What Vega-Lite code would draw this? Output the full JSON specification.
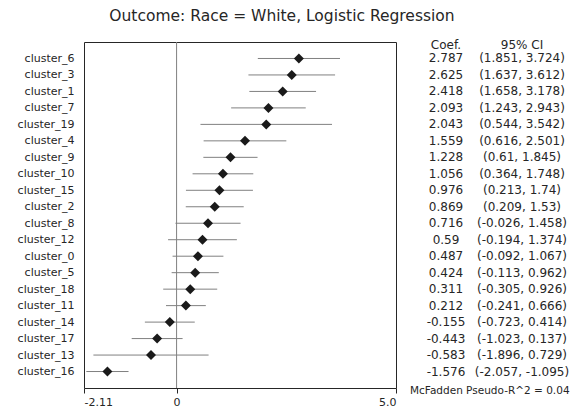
{
  "$schema": "https://vega.github.io/schema/vega-lite/v6.json",
  "padding": {"left": 16, "top": 8, "right": 0, "bottom": 0},
  "autosize": {"type": "pad"},
  "config": {"font": "DejaVu Sans", "view": {"stroke": null}},
  "datasets": {
    "coefs": [
      {"cluster": "cluster_6", "coef": 2.787, "lo": 1.851, "hi": 3.724, "ci": "(1.851, 3.724)"},
      {"cluster": "cluster_3", "coef": 2.625, "lo": 1.637, "hi": 3.612, "ci": "(1.637, 3.612)"},
      {"cluster": "cluster_1", "coef": 2.418, "lo": 1.658, "hi": 3.178, "ci": "(1.658, 3.178)"},
      {"cluster": "cluster_7", "coef": 2.093, "lo": 1.243, "hi": 2.943, "ci": "(1.243, 2.943)"},
      {"cluster": "cluster_19", "coef": 2.043, "lo": 0.544, "hi": 3.542, "ci": "(0.544, 3.542)"},
      {"cluster": "cluster_4", "coef": 1.559, "lo": 0.616, "hi": 2.501, "ci": "(0.616, 2.501)"},
      {"cluster": "cluster_9", "coef": 1.228, "lo": 0.61, "hi": 1.845, "ci": "(0.61, 1.845)"},
      {"cluster": "cluster_10", "coef": 1.056, "lo": 0.364, "hi": 1.748, "ci": "(0.364, 1.748)"},
      {"cluster": "cluster_15", "coef": 0.976, "lo": 0.213, "hi": 1.74, "ci": "(0.213, 1.74)"},
      {"cluster": "cluster_2", "coef": 0.869, "lo": 0.209, "hi": 1.53, "ci": "(0.209, 1.53)"},
      {"cluster": "cluster_8", "coef": 0.716, "lo": -0.026, "hi": 1.458, "ci": "(-0.026, 1.458)"},
      {"cluster": "cluster_12", "coef": 0.59, "lo": -0.194, "hi": 1.374, "ci": "(-0.194, 1.374)"},
      {"cluster": "cluster_0", "coef": 0.487, "lo": -0.092, "hi": 1.067, "ci": "(-0.092, 1.067)"},
      {"cluster": "cluster_5", "coef": 0.424, "lo": -0.113, "hi": 0.962, "ci": "(-0.113, 0.962)"},
      {"cluster": "cluster_18", "coef": 0.311, "lo": -0.305, "hi": 0.926, "ci": "(-0.305, 0.926)"},
      {"cluster": "cluster_11", "coef": 0.212, "lo": -0.241, "hi": 0.666, "ci": "(-0.241, 0.666)"},
      {"cluster": "cluster_14", "coef": -0.155, "lo": -0.723, "hi": 0.414, "ci": "(-0.723, 0.414)"},
      {"cluster": "cluster_17", "coef": -0.443, "lo": -1.023, "hi": 0.137, "ci": "(-1.023, 0.137)"},
      {"cluster": "cluster_13", "coef": -0.583, "lo": -1.896, "hi": 0.729, "ci": "(-1.896, 0.729)"},
      {"cluster": "cluster_16", "coef": -1.576, "lo": -2.057, "hi": -1.095, "ci": "(-2.057, -1.095)"}
    ]
  },
  "spacing": 12,
  "bounds": "flush",
  "hconcat": [
    {
      "title": {"text": "Outcome: Race = White, Logistic Regression", "fontSize": 15.5, "fontWeight": "normal", "color": "#262626", "anchor": "middle", "dx": 42, "offset": 17},
      "width": 312,
      "height": 346,
      "view": {"stroke": "#262626", "strokeWidth": 1},
      "layer": [
        {
          "data": {"values": [{"ref": 0}]},
          "mark": {"type": "rule", "color": "#808080", "strokeWidth": 1},
          "encoding": {
            "x": {"field": "ref", "type": "quantitative", "scale": {"domain": [-2.11, 5.0], "nice": false, "zero": false}}
          }
        },
        {
          "data": {"name": "coefs"},
          "mark": {"type": "rule", "color": "#808080", "strokeWidth": 1},
          "encoding": {
            "x": {"field": "lo", "type": "quantitative"},
            "x2": {"field": "hi"},
            "y": {"field": "cluster", "type": "nominal", "sort": null}
          }
        },
        {
          "data": {"name": "coefs"},
          "mark": {"type": "point", "shape": "diamond", "filled": true, "size": 100, "color": "#1a1a1a", "opacity": 1},
          "encoding": {
            "x": {"field": "coef", "type": "quantitative"},
            "y": {"field": "cluster", "type": "nominal", "sort": null}
          }
        }
      ],
      "resolve": {"scale": {"x": "shared", "y": "shared"}},
      "encoding": {
        "x": {
          "type": "quantitative",
          "scale": {"domain": [-2.11, 5.0], "nice": false, "zero": false},
          "axis": {"title": null, "values": [-2.11, 0, 5], "labelExpr": "datum.value == 5 ? '5.0' : datum.value == 0 ? '0' : '-2.11'", "grid": false, "domain": false, "tickColor": "#262626", "tickSize": 5, "labelFontSize": 11, "labelColor": "#262626", "labelPadding": 3}
        },
        "y": {
          "type": "nominal",
          "scale": {"type": "point", "padding": 1, "domain": ["cluster_6","cluster_3","cluster_1","cluster_7","cluster_19","cluster_4","cluster_9","cluster_10","cluster_15","cluster_2","cluster_8","cluster_12","cluster_0","cluster_5","cluster_18","cluster_11","cluster_14","cluster_17","cluster_13","cluster_16"]},
          "axis": {"title": null, "ticks": false, "domain": false, "grid": false, "labelPadding": 10, "labelFontSize": 11, "labelColor": "#262626"}
        }
      }
    },
    {
      "width": 152,
      "height": 346,
      "view": {"stroke": null},
      "encoding": {
        "y": {
          "type": "nominal",
          "scale": {"type": "point", "padding": 1, "domain": ["cluster_6","cluster_3","cluster_1","cluster_7","cluster_19","cluster_4","cluster_9","cluster_10","cluster_15","cluster_2","cluster_8","cluster_12","cluster_0","cluster_5","cluster_18","cluster_11","cluster_14","cluster_17","cluster_13","cluster_16"]},
          "axis": null
        },
        "x": {"type": "nominal", "scale": {"type": "point", "padding": 0.5, "domain": ["Coef.", "95% CI"]}, "axis": null}
      },
      "layer": [
        {
          "data": {"name": "coefs"},
          "mark": {"type": "text", "fontSize": 12, "color": "#262626"},
          "encoding": {
            "x": {"datum": "Coef.", "type": "nominal"},
            "y": {"field": "cluster", "type": "nominal"},
            "text": {"field": "coef", "type": "nominal"}
          }
        },
        {
          "data": {"name": "coefs"},
          "mark": {"type": "text", "fontSize": 12, "color": "#262626"},
          "encoding": {
            "x": {"datum": "95% CI", "type": "nominal"},
            "y": {"field": "cluster", "type": "nominal"},
            "text": {"field": "ci", "type": "nominal"}
          }
        },
        {
          "data": {"values": [{"col": "Coef."}, {"col": "95% CI"}]},
          "mark": {"type": "text", "fontSize": 12, "color": "#262626", "dy": -13},
          "encoding": {
            "x": {"field": "col", "type": "nominal"},
            "y": {"datum": "cluster_6", "type": "nominal"},
            "text": {"field": "col", "type": "nominal"}
          }
        },
        {
          "data": {"values": [{"note": "McFadden Pseudo-R^2 = 0.04"}]},
          "mark": {"type": "text", "fontSize": 10.5, "color": "#262626", "align": "left", "dx": -36, "dy": 19},
          "encoding": {
            "x": {"datum": "Coef.", "type": "nominal"},
            "y": {"datum": "cluster_16", "type": "nominal"},
            "text": {"field": "note", "type": "nominal"}
          }
        }
      ]
    }
  ]
}
